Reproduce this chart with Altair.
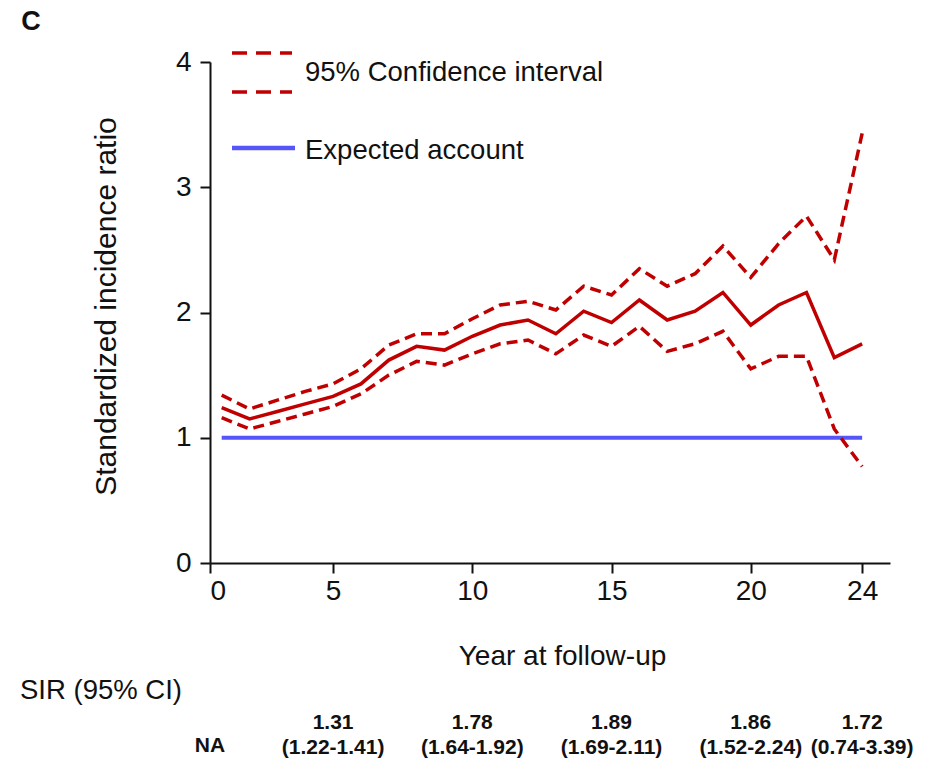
import altair as alt
import pandas as pd

# Yearly standardized incidence ratio with its 95% confidence bounds
years = list(range(1, 25))
sir = [1.24, 1.15, 1.21, 1.27, 1.33, 1.43, 1.62, 1.73, 1.70, 1.81, 1.90, 1.94,
       1.83, 2.01, 1.92, 2.10, 1.94, 2.01, 2.16, 1.90, 2.06, 2.16, 1.64, 1.75]
ci_upper = [1.34, 1.23, 1.30, 1.37, 1.43, 1.55, 1.74, 1.83, 1.83, 1.95, 2.06, 2.09,
            2.02, 2.21, 2.14, 2.35, 2.21, 2.31, 2.53, 2.28, 2.55, 2.77, 2.42, 3.43]
ci_lower = [1.16, 1.07, 1.13, 1.19, 1.25, 1.35, 1.50, 1.61, 1.58, 1.67, 1.75, 1.78,
            1.67, 1.82, 1.73, 1.89, 1.69, 1.75, 1.85, 1.55, 1.65, 1.65, 1.07, 0.77]
expected = [1, 1, 1, 1, 1, 1, 1, 1, 1, 1, 1, 1,
            1, 1, 1, 1, 1, 1, 1, 1, 1, 1, 1, 1]

# Period summaries printed under the axis
period_year = [5, 10, 15, 20, 24]
period_sir = ["1.31", "1.78", "1.89", "1.86", "1.72"]
period_ci = ["(1.22-1.41)", "(1.64-1.92)", "(1.69-2.11)", "(1.52-2.24)", "(0.74-3.39)"]

x_tick_labels = [5, 10, 15, 20, 24]

X_START = 0.58          # left end of the x axis, labelled "0"
X_END = 25.0
RED = "#C00000"
BLUE = "#5555F8"
INK = "#111111"
FONT = "Liberation Sans"

long_rows = []
for name, vals in [("expected", expected), ("upper", ci_upper),
                   ("lower", ci_lower), ("sir", sir)]:
    for yr, v in zip(years, vals):
        long_rows.append({"year": yr, "value": v, "series": name})
df = pd.DataFrame(long_rows)

# one-row source for free-standing annotations
one = pd.DataFrame({"k": [0]})

x_enc = alt.X(
    "year:Q",
    scale=alt.Scale(domain=[X_START, X_END], nice=False, zero=False),
    axis=alt.Axis(
        values=[X_START] + x_tick_labels,
        labelExpr="datum.value < 1 ? '0' : format(datum.value, 'd')",
        title="Year at follow-up",
        titleX=352, titleY=93, titleBaseline="middle", titleAlign="center",
        tickSize=10, labelPadding=4,
    ),
)
y_enc = alt.Y(
    "value:Q",
    scale=alt.Scale(domain=[0, 4], nice=False),
    axis=alt.Axis(
        values=[0, 1, 2, 3, 4],
        format="d",
        title="Standardized incidence ratio",
        titleX=-104, titleY=244, titleAngle=270, titleFontSize=30,
        titleAlign="center", titleBaseline="middle",
        tickSize=10, labelPadding=9,
    ),
)

base = alt.Chart(df)

expected_line = base.transform_filter(alt.datum.series == "expected").mark_line(
    color=BLUE, strokeWidth=4
).encode(x=x_enc, y=y_enc)

ci_lines = base.transform_filter(
    (alt.datum.series == "upper") | (alt.datum.series == "lower")
).mark_line(color=RED, strokeWidth=3.5, strokeDash=[11, 6]).encode(
    x="year:Q", y="value:Q", detail="series:N"
)

sir_line = base.transform_filter(alt.datum.series == "sir").mark_line(
    color=RED, strokeWidth=3.5
).encode(x="year:Q", y="value:Q")

# Legend drawn in the upper-left corner of the plot
legend_dash_top = alt.Chart(one).mark_rule(
    color=RED, strokeWidth=3.5, strokeDash=[15, 9]
).encode(x=alt.value(22), x2=alt.value(82), y=alt.value(-9))
legend_dash_bottom = alt.Chart(one).mark_rule(
    color=RED, strokeWidth=3.5, strokeDash=[15, 9]
).encode(x=alt.value(22), x2=alt.value(82), y=alt.value(30))
legend_blue = alt.Chart(one).mark_rule(color=BLUE, strokeWidth=4.5).encode(
    x=alt.value(22), x2=alt.value(85), y=alt.value(86)
)
legend_ci_text = alt.Chart(one).mark_text(
    text="95% Confidence interval", align="left", baseline="middle",
    font=FONT, fontSize=27.5, color=INK
).encode(x=alt.value(95), y=alt.value(11))
legend_exp_text = alt.Chart(one).mark_text(
    text="Expected account", align="left", baseline="middle",
    font=FONT, fontSize=27.5, color=INK
).encode(x=alt.value(95), y=alt.value(89))

# Panel letter and table heading
panel_letter = alt.Chart(one).mark_text(
    text="C", align="center", baseline="middle",
    font=FONT, fontSize=27, fontWeight="bold", color=INK
).encode(x=alt.value(-179), y=alt.value(-40))
sir_heading = alt.Chart(one).mark_text(
    text="SIR (95% CI)", align="left", baseline="middle",
    font=FONT, fontSize=27.5, color=INK
).encode(x=alt.value(-190), y=alt.value(629))

table_df = pd.DataFrame({"year": period_year, "sir": period_sir, "ci": period_ci})
table_sir = alt.Chart(table_df).mark_text(
    align="center", baseline="middle", font=FONT, fontSize=21,
    fontWeight="bold", color=INK
).encode(x="year:Q", y=alt.value(661), text="sir:N")
table_ci = alt.Chart(table_df).mark_text(
    align="center", baseline="middle", font=FONT, fontSize=21,
    fontWeight="bold", color=INK
).encode(x="year:Q", y=alt.value(686), text="ci:N")
na_df = pd.DataFrame({"year": [X_START], "label": ["NA"]})
table_na = alt.Chart(na_df).mark_text(
    align="center", baseline="middle", font=FONT, fontSize=21,
    fontWeight="bold", color=INK
).encode(x="year:Q", y=alt.value(684), text="label:N")

chart = alt.layer(
    expected_line, ci_lines, sir_line,
    legend_dash_top, legend_dash_bottom, legend_blue,
    legend_ci_text, legend_exp_text,
    panel_letter, sir_heading, table_sir, table_ci, table_na,
).properties(
    width=680,
    height=501,
    padding={"left": 210, "top": 62, "right": 56, "bottom": 213},
    autosize=alt.AutoSizeParams(type="none"),
    background="white",
).configure_view(
    stroke=None
).configure_axis(
    grid=False,
    domainColor=INK, domainWidth=2,
    tickColor=INK, tickWidth=2,
    labelFont=FONT, labelFontSize=28, labelColor=INK,
    titleFont=FONT, titleFontSize=28, titleFontWeight="normal", titleColor=INK,
)

chart.save("out.html", embed_options={"renderer": "svg", "actions": False})
